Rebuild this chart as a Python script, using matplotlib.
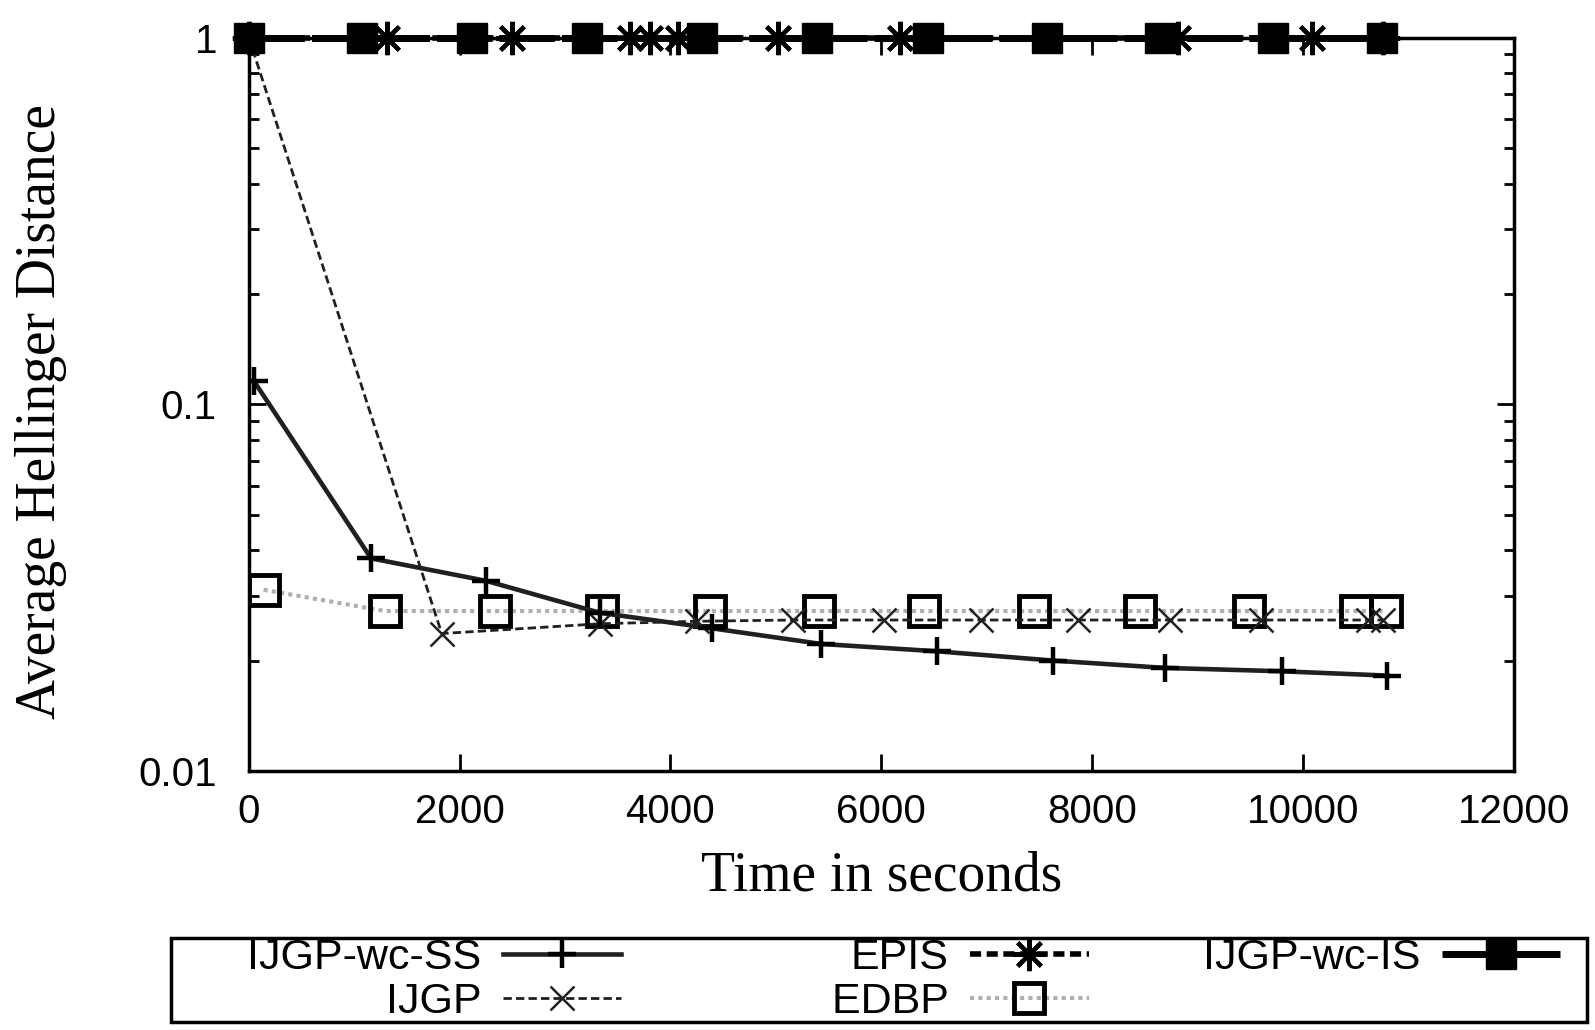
import matplotlib
matplotlib.use('Agg')
import matplotlib.pyplot as plt
from matplotlib.patches import Rectangle

# data (time in s, average Hellinger distance)
ss_t = [50, 1160, 2250, 3330, 4390, 5430, 6530, 7630, 8690, 9800, 10800]
ss_d = [0.1155, 0.038, 0.033, 0.027, 0.0245, 0.0222, 0.0212, 0.0200, 0.0191, 0.0187, 0.0182]

ijgp_t = [0, 1830, 3330, 4250, 5160, 6030, 6950, 7870, 8740, 9600, 10620, 10760]
ijgp_d = [1.0, 0.0237, 0.0252, 0.0256, 0.0258, 0.0258, 0.0258, 0.0258, 0.0258, 0.0258, 0.0258, 0.0258]

epis_t = [0, 1310, 2500, 3615, 3805, 4070, 5020, 6180, 8820, 10085, 10760]
epis_d = [1.0] * len(epis_t)

edbp_t = [140, 1290, 2335, 3350, 4375, 5410, 6405, 7450, 8455, 9490, 10500, 10790]
edbp_d = [0.0312, 0.0273, 0.0273, 0.0273, 0.0273, 0.0273, 0.0273, 0.0273, 0.0273, 0.0273, 0.0273, 0.0273]

is_t = [0, 1070, 2120, 3210, 4300, 5390, 6440, 7570, 8640, 9715, 10750]
is_d = [1.0] * len(is_t)

x_ticks = [0, 2000, 4000, 6000, 8000, 10000, 12000]
y_ticks = [0.01, 0.1, 1]
y_tick_labels = ['0.01', '0.1', '1']

plt.rcParams['font.family'] = ['Liberation Sans', 'DejaVu Sans']
serif = ['Liberation Serif', 'DejaVu Serif']

fig = plt.figure(figsize=(15.95, 10.30), dpi=100)
ax = fig.add_axes([0.156, 0.2515, 0.793, 0.712])

ax.plot(ss_t, ss_d, color='#202020', lw=3.3, ls='-', marker='+', ms=20, mew=3.2,
        mec='black', label='IJGP-wc-SS', zorder=5)
ax.plot(ijgp_t, ijgp_d, color='#202020', lw=2, ls=(0, (3, 1.5)), marker='x', ms=17, mew=1.8,
        mec='#202020', label='IJGP', zorder=4)
ax.plot(epis_t, epis_d, color='black', lw=4, ls=(0, (2, 1)), marker=(8, 2, 0), ms=24, mew=3,
        mec='black', label='EPIS', zorder=6, clip_on=False)
ax.plot(edbp_t, edbp_d, color='#b0b0b0', lw=3, ls=(0, (1, 1)), marker='s', ms=22, mew=3.5,
        mec='black', mfc='none', label='EDBP', zorder=3)
ax.plot(is_t, is_d, color='black', lw=5, ls=(0, (8, 1)), marker='s', ms=21, mew=1,
        mec='black', mfc='black', label='IJGP-wc-IS', zorder=7, clip_on=False)

ax.set_yscale('log')
ax.set_xlim(0, 12000)
ax.set_ylim(0.01, 1)
ax.set_xticks(x_ticks)
ax.set_xticklabels([str(v) for v in x_ticks])
ax.set_yticks(y_ticks)
ax.set_yticklabels(y_tick_labels)
ax.tick_params(which='major', direction='in', length=12, width=2, top=True, right=True,
               labelsize=29, pad=16)
ax.tick_params(which='minor', direction='in', length=7, width=2, top=False, right=True)
ax.tick_params(axis='y', which='major', pad=23)
for s in ax.spines.values():
    s.set_linewidth(2.5)

ax.set_xlabel('Time in seconds', family=serif, fontsize=40, labelpad=14)
ax.set_ylabel('Average Hellinger Distance', family=serif, fontsize=40)
ax.yaxis.set_label_coords(-0.144, 0.49)

# gnuplot-style key: text right-aligned before the sample, fixed-width columns
h, l = ax.get_legend_handles_labels()
l = [lab if lab != 'EDBP' else ' ' * 8 + lab for lab in l]
leg = fig.legend(h, l, ncol=3, markerfirst=False, loc='center left',
                 bbox_to_anchor=(247 / 1595, 1 - 980 / 1030),
                 fontsize=31, frameon=False,
                 handlelength=2.75, handletextpad=0.5, labelspacing=0.1,
                 borderpad=0, borderaxespad=0, columnspacing=2.66)
fig.patches.append(Rectangle((171 / 1595, 1 - 1022 / 1030), 1416 / 1595, 84 / 1030,
                             transform=fig.transFigure, fill=False, lw=2.5, ec='black'))

fig.savefig('out.png', dpi=100)
